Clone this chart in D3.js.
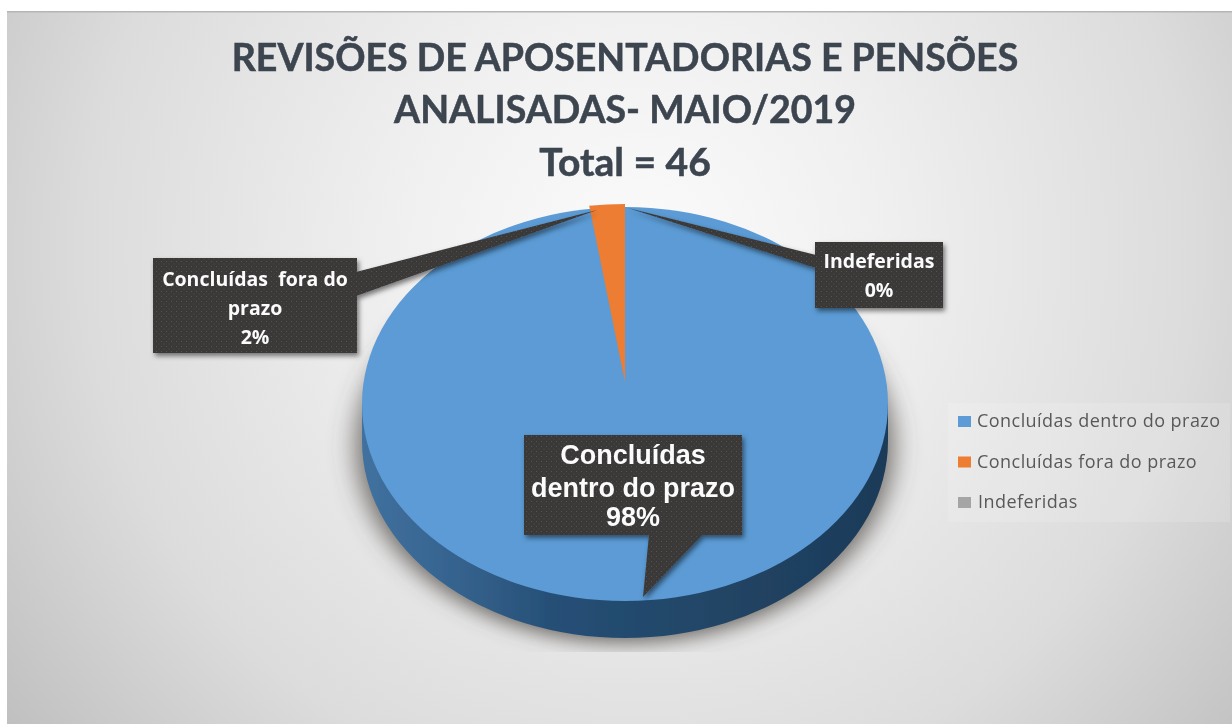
<!DOCTYPE html>
<html><head><meta charset="utf-8">
<script src="https://cdnjs.cloudflare.com/ajax/libs/d3/7.8.5/d3.min.js"></script>
<style>html,body{margin:0;padding:0;background:#fff;overflow:hidden}svg{display:block}</style>
</head><body><svg id="c" width="1232" height="724"></svg>
<script>
const categories = ["Concluídas dentro do prazo","Concluídas fora do prazo","Indeferidas"];
const values = [45,1,0];
const percentLabels = ["98%","2%","0%"];
const colors = ["#5b9bd5","#ed7d31","#a5a5a5"];
const titleLines = ["REVISÕES DE APOSENTADORIAS E PENSÕES","ANALISADAS- MAIO/2019","Total = 46"];
const calloutLines = [["Concluídas","dentro do prazo"],["Concluídas  fora do","prazo"],["Indeferidas"]];

const svg = d3.select("#c");
const defs = svg.append("defs");

// background
const bg = defs.append("radialGradient").attr("id","bg").attr("gradientUnits","userSpaceOnUse")
  .attr("cx",640).attr("cy",250).attr("r",790);
[[0,"#fbfbfb"],[0.3,"#f0f0f0"],[0.7,"#dcdcdc"],[1,"#c0c0c0"]].forEach(s=>bg.append("stop").attr("offset",s[0]).attr("stop-color",s[1]));

// side gradient
const cx=625, cy=404, rx=263, ry=197, depth=37;
const side = defs.append("linearGradient").attr("id","side").attr("gradientUnits","userSpaceOnUse")
  .attr("x1",-rx).attr("x2",rx).attr("y1",0).attr("y2",0);
[[0,"#41719f"],[0.2,"#34618c"],[0.36,"#264f76"],[0.7,"#214464"],[1,"#1d3a58"]].forEach(s=>side.append("stop").attr("offset",s[0]).attr("stop-color",s[1]));

// callout texture
const pat = defs.append("pattern").attr("id","dots").attr("patternUnits","userSpaceOnUse").attr("width",5).attr("height",5);
pat.append("rect").attr("width",5).attr("height",5).attr("fill","#3a3838");
pat.append("rect").attr("x",1).attr("y",1).attr("width",1).attr("height",1).attr("fill","#555352");
pat.append("rect").attr("x",3.5).attr("y",3.5).attr("width",1).attr("height",1).attr("fill","#4c4a49");

const blur = defs.append("filter").attr("id","shadow").attr("x","-20%").attr("y","-20%").attr("width","140%").attr("height","140%");
blur.append("feGaussianBlur").attr("stdDeviation",13);
const soft = defs.append("filter").attr("id","soft");
soft.append("feGaussianBlur").attr("stdDeviation",0.45);
const ds = defs.append("filter").attr("id","drop").attr("x","-10%").attr("y","-10%").attr("width","125%").attr("height","125%");
ds.append("feDropShadow").attr("dx",2).attr("dy",3).attr("stdDeviation",2.5).attr("flood-color","#000").attr("flood-opacity",0.5);
defs.append("clipPath").attr("id","plotClip").append("rect").attr("x",7).attr("y",11).attr("width",1225).attr("height",641);

const root = svg.append("g").attr("filter","url(#soft)");
root.append("rect").attr("x",7).attr("y",11).attr("width",1225).attr("height",713).attr("fill","url(#bg)");
root.append("rect").attr("x",7).attr("y",11).attr("width",1225).attr("height",1.5).attr("fill","#b5b5b5");

// title
const title = root.append("g").attr("font-family","Lato").attr("font-weight",700).attr("fill","#3c4450")
  .attr("stroke","#3c4450").attr("stroke-width",0.5).attr("text-anchor","middle");
title.selectAll("text").data(titleLines).join("text")
  .attr("x",625).attr("y",(d,i)=>[71,123,176][i])
  .attr("font-size",(d,i)=>[37.5,37.5,39][i]).text(d=>d);

// shadow under the pie
const k = ry/rx;
const arcGen = d3.arc().innerRadius(0).outerRadius(rx);
const pie = d3.pie().sort(null).value(d=>d);
const arcs = pie(values);
root.append("g").attr("clip-path","url(#plotClip)").append("path")
  .attr("transform",`translate(${cx},${cy+depth+5}) scale(1.02,${k})`)
  .attr("d",arcGen({startAngle:0,endAngle:2*Math.PI}))
  .attr("fill","#4f4a45").attr("fill-opacity",0.8).attr("filter","url(#shadow)");

// side wall
const wall = root.append("g").attr("transform",`translate(${cx},${cy})`);
wall.append("rect").attr("x",-rx).attr("y",0).attr("width",2*rx).attr("height",depth).attr("fill","url(#side)");
wall.append("path").attr("transform",`translate(0,${depth}) scale(1,${k})`)
  .attr("d",arcGen({startAngle:Math.PI/2,endAngle:3*Math.PI/2})).attr("fill","url(#side)");

// top surface: the first slice fills the ellipse, the small slice rises above it
const face = root.append("g").attr("transform",`translate(${cx},${cy}) scale(1,${k})`);
face.append("path").attr("d",arcGen({startAngle:arcs[0].startAngle,endAngle:2*Math.PI})).attr("fill",colors[0]);
const rOrange = 178;
root.append("path").attr("transform",`translate(${cx},382) scale(1,${rOrange/rx})`)
  .attr("d",arcGen(arcs[1])).attr("fill",colors[1]);

// callouts
const box = [
 {x:524,y:435,w:218,h:100,tail:[[649,535],[702,535],[643,597]]},
 {x:153,y:258,w:204,h:95,tail:[[356,272],[356,296],[597,210]]},
 {x:815,y:242,w:128,h:66,tail:[[816,255],[816,268],[628,208]]}
];
const lineGen = d3.line();
const tips = root.append("g");
box.forEach(b=>{
  const g = tips.append("g").attr("filter","url(#drop)");
  g.append("path").attr("d",lineGen(b.tail)+"Z").attr("fill","url(#dots)");
  g.append("rect").attr("x",b.x).attr("y",b.y).attr("width",b.w).attr("height",b.h).attr("fill","url(#dots)");
});
const labelSpec = [
 {x:633,ys:[464,497,526],font:"Liberation Sans",size:27,weight:700},
 {x:255,ys:[286,315,344],font:"Open Sans",size:19.5,weight:700},
 {x:879,ys:[268,297],font:"Open Sans",size:19.5,weight:700}
];
categories.forEach((c,i)=>{
  const lines = calloutLines[i].concat(percentLabels[i]);
  const s = labelSpec[i];
  const g = root.append("g").attr("font-family",s.font).attr("font-size",s.size).attr("font-weight",s.weight).attr("fill","#fbfbfb").attr("text-anchor","middle");
  g.selectAll("text").data(lines).join("text").attr("x",s.x).attr("y",(d,j)=>s.ys[j]).style("white-space","pre").text(d=>d);
});

// legend
const legendY = d3.scalePoint().domain(categories).range([421,502]);
root.append("rect").attr("x",948).attr("y",403).attr("width",282).attr("height",119).attr("fill","#fff").attr("fill-opacity",0.14);
const leg = root.append("g").selectAll("g").data(categories).join("g").attr("transform",d=>`translate(958,${legendY(d)})`);
leg.append("rect").attr("x",0).attr("y",-5).attr("width",13).attr("height",11).attr("fill",(d,i)=>colors[i]);
leg.append("text").attr("x",(d,i)=>[19,19,20][i]).attr("y",6).attr("font-family","Open Sans").attr("font-size",18).attr("letter-spacing",0.45).attr("fill","#595959").text(d=>d);
</script></body></html>
